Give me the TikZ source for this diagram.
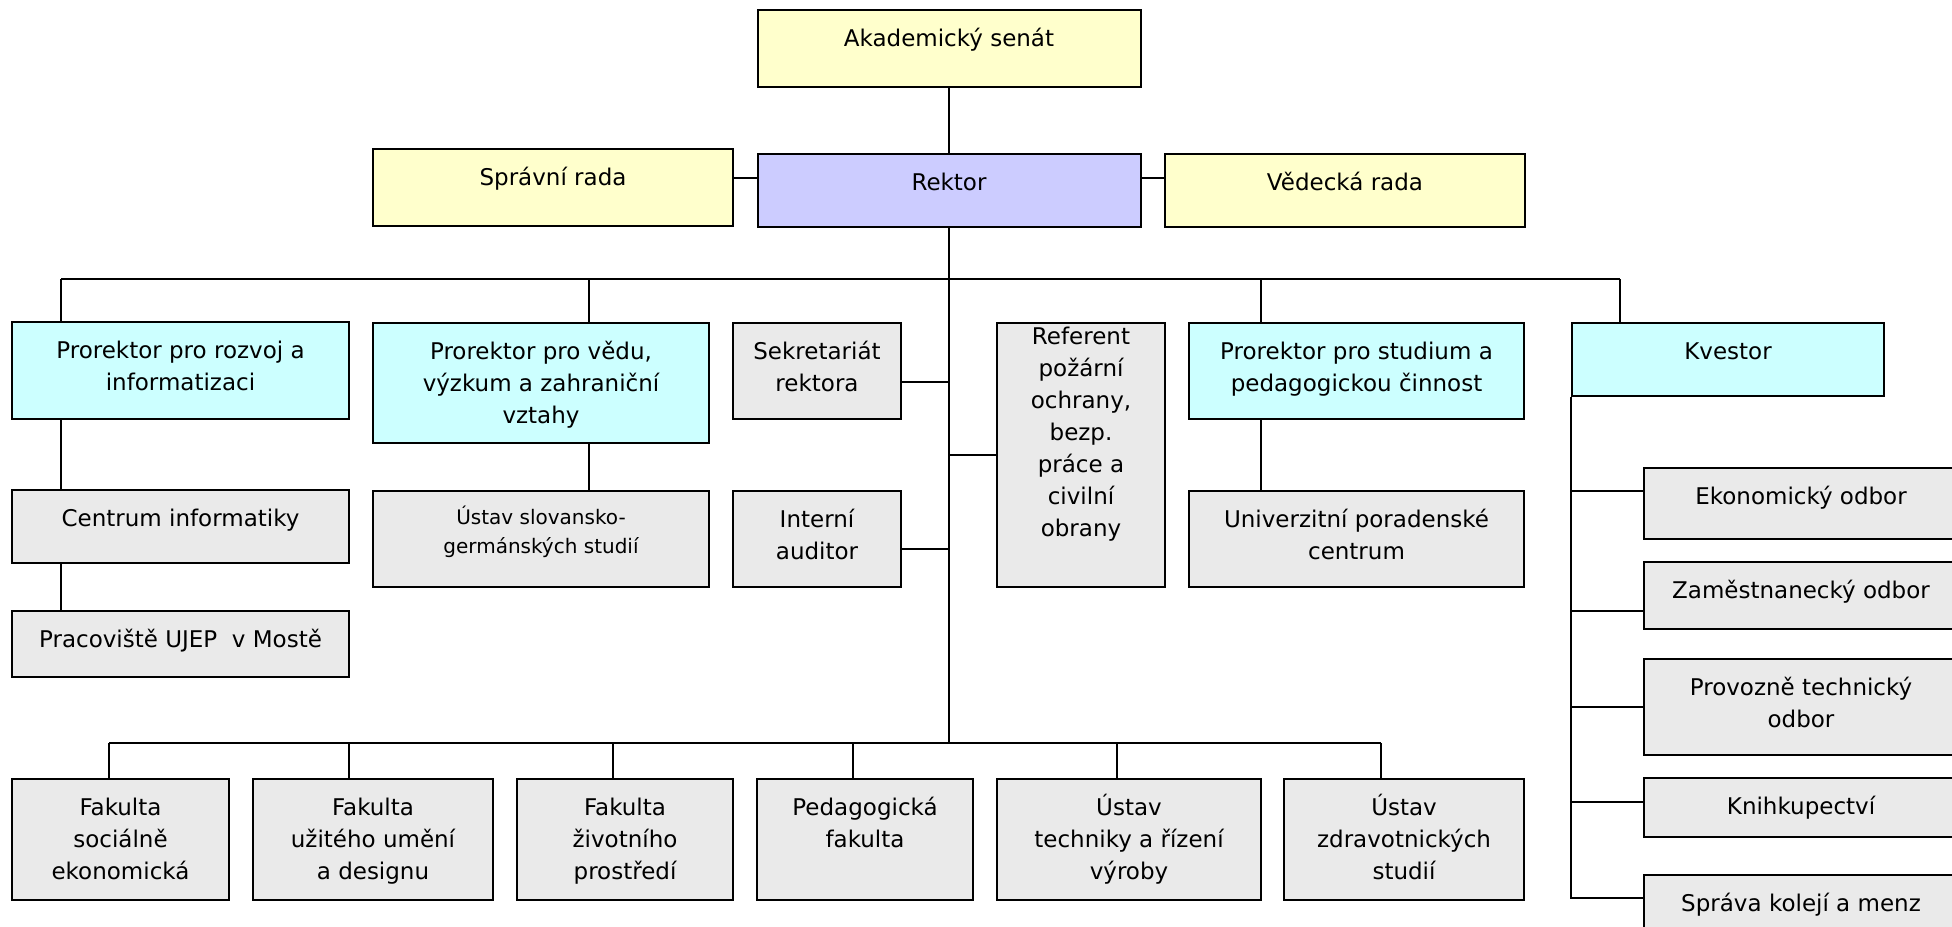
\documentclass[tikz,border=0pt]{standalone}
\usepackage{fontspec}
\setmainfont{DejaVu Sans}
\definecolor{org_yellow}{RGB}{255, 255, 204}
\definecolor{org_violet}{RGB}{204, 204, 255}
\definecolor{org_cyan}{RGB}{204, 255, 255}
\definecolor{org_grey}{RGB}{234, 234, 234}
\tikzstyle{box}=[rectangle,draw=black,line width=1pt,inner sep=0pt]
\tikzstyle{yb}=[box,fill=org_yellow]
\tikzstyle{vb}=[box,fill=org_violet]
\tikzstyle{cb}=[box,fill=org_cyan]
\tikzstyle{gb}=[box,fill=org_grey]
\tikzstyle{lbl}=[anchor=base,yshift=-18.5pt,inner sep=0pt,
  font=\fontsize{11.5}{16}\selectfont]
\tikzstyle{conn}=[draw=black,line width=0.8pt]
\tikzset{sz/.style 2 args={minimum width=#1pt,minimum height=#2pt}}
\newcommand{\orgtext}[1]{\begin{tabular}[t]{@{}c@{}}#1\end{tabular}}

\begin{document}
\begin{tikzpicture}[x=0.5pt,y=-0.5pt]
        \useasboundingbox (0,0) rectangle (1952,926);
        \node [style=yb, sz={191.5}{38.5}, label={[lbl]north:\orgtext{Akademický senát}}] (akad) at (949,48.5) {};
        \node [style=yb, sz={180}{38.5}, label={[lbl]north:\orgtext{Správní rada}}] (sprav) at (553,187.5) {};
        \node [style=vb, sz={191.5}{36.5}, label={[lbl]north:\orgtext{Rektor}}] (rektor) at (949,190.5) {};
        \node [style=yb, sz={180}{36.5}, label={[lbl]north:\orgtext{Vědecká rada}}] (ved) at (1345,190.5) {};
        \node [style=cb, sz={168.5}{48.5}, label={[lbl]north:\orgtext{Prorektor pro rozvoj a\\informatizaci}}] (prrozv) at (180.5,370.5) {};
        \node [style=cb, sz={168}{60}, label={[lbl]north:\orgtext{Prorektor pro vědu,\\výzkum a zahraniční\\vztahy}}] (prved) at (541,383) {};
        \node [style=gb, sz={84}{48}, label={[lbl]north:\orgtext{Sekretariát\\rektora}}] (sekr) at (817,371) {};
        \node [style=gb, sz={84}{132}, label={[lbl,yshift=7.5pt]north:\orgtext{Referent\\požární\\ochrany,\\bezp.\\práce a\\civilní\\obrany}}] (refer) at (1081,455) {};
        \node [style=cb, sz={167.5}{48}, label={[lbl]north:\orgtext{Prorektor pro studium a\\pedagogickou činnost}}] (prstud) at (1356.5,371) {};
        \node [style=cb, sz={156}{36.5}, label={[lbl]north:\orgtext{Kvestor}}] (kvestor) at (1728,359.5) {};
        \node [style=gb, sz={168.5}{36.5}, label={[lbl]north:\orgtext{Centrum informatiky}}] (cinf) at (180.5,526.5) {};
        \node [style=gb, sz={168.5}{33}, label={[lbl]north:\orgtext{Pracoviště UJEP\ \ v Mostě}}] (most) at (180.5,644) {};
        \node [style=gb, sz={168}{48}, label={[lbl,yshift=1.5pt,font=\fontsize{10}{14.5}\selectfont]north:\orgtext{Ústav slovansko-\\germánských studií}}] (ustslov) at (541,539) {};
        \node [style=gb, sz={84}{48}, label={[lbl]north:\orgtext{Interní\\auditor}}] (audit) at (817,539) {};
        \node [style=gb, sz={167.5}{48}, label={[lbl]north:\orgtext{Univerzitní poradenské\\centrum}}] (upc) at (1356.5,539) {};
        \node [style=gb, sz={157}{35.5}, label={[lbl]north:\orgtext{Ekonomický odbor}}] (ekon) at (1801,503.5) {};
        \node [style=gb, sz={157}{33.5}, label={[lbl]north:\orgtext{Zaměstnanecký odbor}}] (zam) at (1801,595.5) {};
        \node [style=gb, sz={157}{48}, label={[lbl]north:\orgtext{Provozně technický\\odbor}}] (provoz) at (1801,707) {};
        \node [style=gb, sz={157}{29.5}, label={[lbl]north:\orgtext{Knihkupectví}}] (knih) at (1801,807.5) {};
        \node [style=gb, sz={157}{37.5}, label={[lbl]north:\orgtext{Správa kolejí a menz}}] (sprkol) at (1801,912.5) {};
        \node [style=gb, sz={108.5}{60.5}, label={[lbl]north:\orgtext{Fakulta\\sociálně\\ekonomická}}] (fsoc) at (120.5,839.5) {};
        \node [style=gb, sz={120}{60.5}, label={[lbl]north:\orgtext{Fakulta\\užitého umění\\a designu}}] (fumeni) at (373,839.5) {};
        \node [style=gb, sz={108}{60.5}, label={[lbl]north:\orgtext{Fakulta\\životního\\prostředí}}] (fziv) at (625,839.5) {};
        \node [style=gb, sz={108}{60.5}, label={[lbl]north:\orgtext{Pedagogická\\fakulta}}] (pedf) at (865,839.5) {};
        \node [style=gb, sz={132}{60.5}, label={[lbl]north:\orgtext{Ústav\\techniky a řízení\\výroby}}] (ustech) at (1129,839.5) {};
        \node [style=gb, sz={120}{60.5}, label={[lbl]north:\orgtext{Ústav\\zdravotnických\\studií}}] (ustzdr) at (1404,839.5) {};
        \coordinate (s1) at (61,279);
        \coordinate (s2) at (589,279);
        \coordinate (s3) at (1261,279);
        \coordinate (s4) at (1620,279);
        \coordinate (b1) at (109,743);
        \coordinate (b2) at (349,743);
        \coordinate (b3) at (613,743);
        \coordinate (b4) at (853,743);
        \coordinate (b5) at (1117,743);
        \coordinate (b6) at (1381,743);
        \draw [style=conn] (akad) to (rektor);
        \draw [style=conn] (sprav.east |- 0,178) to (rektor.west |- 0,178);
        \draw [style=conn] (rektor.east |- 0,178) to (ved.west |- 0,178);
        \draw [style=conn] (rektor.south) to (rektor.south |- b1);
        \draw [style=conn] (s1) to (s4);
        \draw [style=conn] (s1) to (s1 |- prrozv.north);
        \draw [style=conn] (s2) to (s2 |- prved.north);
        \draw [style=conn] (s3) to (s3 |- prstud.north);
        \draw [style=conn] (s4) to (s4 |- kvestor.north);
        \draw [style=conn] (prrozv.south -| s1) to (cinf.north -| s1);
        \draw [style=conn] (cinf.south -| s1) to (most.north -| s1);
        \draw [style=conn] (prved.south -| s2) to (ustslov.north -| s2);
        \draw [style=conn] (prstud.south -| s3) to (upc.north -| s3);
        \draw [style=conn] ([yshift=-5.5pt]sekr.east) -| (rektor.south);
        \draw [style=conn] ([yshift=-5pt]audit.east) -| (rektor.south);
        \draw [style=conn] (refer.west) -| (rektor.south);
        \draw [style=conn] ([yshift=6.25pt]ekon.west) -| (kvestor.south west);
        \draw [style=conn] ([yshift=-7.75pt]zam.west) -| (kvestor.south west);
        \draw [style=conn] (provoz.west) -| (kvestor.south west);
        \draw [style=conn] ([yshift=2.75pt]knih.west) -| (kvestor.south west);
        \draw [style=conn] ([yshift=7.25pt]sprkol.west) -| (kvestor.south west);
        \draw [style=conn] (b1) to (b6);
        \draw [style=conn] (b1) to (b1 |- fsoc.north);
        \draw [style=conn] (b2) to (b2 |- fumeni.north);
        \draw [style=conn] (b3) to (b3 |- fziv.north);
        \draw [style=conn] (b4) to (b4 |- pedf.north);
        \draw [style=conn] (b5) to (b5 |- ustech.north);
        \draw [style=conn] (b6) to (b6 |- ustzdr.north);
    \end{tikzpicture}
\end{document}
